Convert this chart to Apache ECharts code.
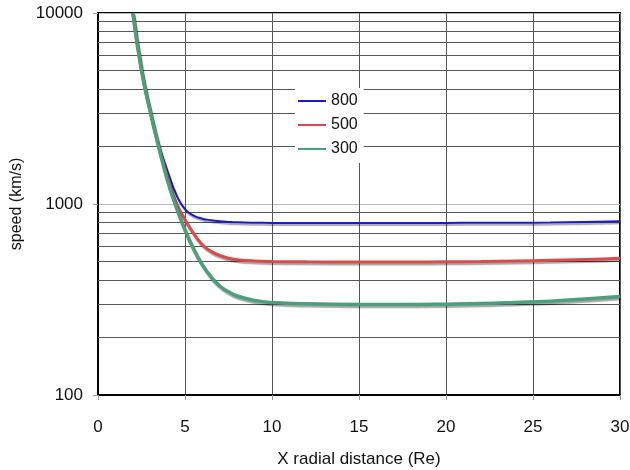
<!DOCTYPE html>
<html>
<head>
<meta charset="utf-8">
<script src="https://cdn.jsdelivr.net/npm/echarts@6/dist/echarts.min.js"></script>
<style>html,body{margin:0;padding:0;background:#fff}#c{width:630px;height:470px}</style>
</head>
<body>
<div id="c"></div>
<script>
const xValues = [2, 2.5, 3, 3.5, 4, 4.5, 5, 5.5, 6, 6.5, 7, 7.5, 8, 9, 10, 12, 15, 18, 20, 22, 24, 26, 28, 30];
const speed800 = [10000, 5000, 3050, 2030, 1480, 1120, 940, 870, 838, 822, 812, 806, 802, 798, 796, 795, 795, 795, 796, 797, 798, 800, 805, 812];
const speed500 = [10000, 5000, 3050, 1980, 1380, 1010, 830, 700, 612, 565, 538, 520, 511, 503, 500, 498, 497, 497, 498, 500, 503, 507, 512, 520];
const speed300 = [10000, 5000, 3050, 1970, 1320, 960, 730, 580, 480, 415, 372, 347, 330, 313, 305, 300, 298, 298, 299, 301, 305, 310, 318, 328];
const seriesNames = ['800', '500', '300'];
const xTicks = [0, 5, 10, 15, 20, 25, 30];
const yTicks = [100, 1000, 10000];
const minorGridValues = [200, 300, 400, 500, 600, 700, 800, 900, 2000, 3000, 4000, 5000, 6000, 7000, 8000, 9000];

const pair = (ys) => xValues.map((x, i) => [x, ys[i]]);
const FONT = '"Liberation Sans", Arial, Helvetica, sans-serif';
const shadow = {shadowColor: 'rgba(0,0,0,0.35)', shadowBlur: 1, shadowOffsetX: 1, shadowOffsetY: 2};

const chart = echarts.init(document.getElementById('c'));
chart.setOption({
  animation: false,
  backgroundColor: '#fff',
  textStyle: {fontFamily: FONT},
  grid: {left: 98, right: 10, top: 13, bottom: 75, containLabel: false, outerBoundsMode: 'none',
         show: true, borderColor: '#000', borderWidth: 2, backgroundColor: 'transparent'},
  legend: {
    data: seriesNames,
    orient: 'vertical',
    left: 295, top: 88,
    padding: [5, 6, 6, 3],
    backgroundColor: '#fff',
    icon: 'rect',
    itemWidth: 28, itemHeight: 2,
    itemGap: 8,
    textStyle: {fontFamily: FONT, fontSize: 16, color: '#111', lineHeight: 16}
  },
  xAxis: {
    type: 'value', min: xTicks[0], max: xTicks[xTicks.length - 1], interval: 5,
    name: 'X radial distance (Re)', nameLocation: 'middle', nameGap: 56,
    nameTextStyle: {fontFamily: FONT, fontSize: 17, color: '#111'},
    axisLine: {show: true, onZero: false, lineStyle: {color: '#000', width: 2}},
    axisTick: {show: true, inside: false, length: 5, lineStyle: {color: '#999'}},
    axisLabel: {fontFamily: FONT, fontSize: 17, color: '#111', margin: 24},
    splitLine: {show: true, lineStyle: {color: '#555', width: 1}}
  },
  yAxis: {
    type: 'log', logBase: 10, min: yTicks[0], max: yTicks[yTicks.length - 1],
    name: 'speed (km/s)', nameLocation: 'middle', nameGap: 72, nameRotate: 90,
    nameTextStyle: {fontFamily: FONT, fontSize: 16, color: '#111'},
    axisLine: {show: true, lineStyle: {color: '#000', width: 2}},
    axisTick: {show: true, inside: false, length: 5, lineStyle: {color: '#999'}},
    axisLabel: {fontFamily: FONT, fontSize: 17, color: '#111', margin: 15, formatter: (v) => String(Math.round(v))},
    splitLine: {show: true, lineStyle: {color: '#bbb', width: 1}},
    minorTick: {show: false}, minorSplitLine: {show: false}
  },
  series: [
    {
      name: 'grid', type: 'line', data: [[0, 100]], showSymbol: false, z: 1,
      lineStyle: {width: 0}, silent: true, legendHoverLink: false,
      markLine: {
        z: 1,
        silent: true, symbol: ['none', 'none'], label: {show: false},
        lineStyle: {color: '#555', width: 1, type: 'solid'},
        emphasis: {disabled: true},
        data: minorGridValues.map(v => ({yAxis: v}))
      }
    },
    {name: seriesNames[0], type: 'line', data: pair(speed800), showSymbol: false, smooth: 0.5, z: 3,
     color: '#1a1ac8', lineStyle: Object.assign({color: '#1a1ac8', width: 2}, shadow)},
    {name: seriesNames[1], type: 'line', data: pair(speed500), showSymbol: false, smooth: 0.5, z: 4,
     color: '#dc4a4a', lineStyle: Object.assign({color: '#dc4a4a', width: 3}, shadow)},
    {name: seriesNames[2], type: 'line', data: pair(speed300), showSymbol: false, smooth: 0.5, z: 5,
     color: '#4c9f7b', lineStyle: Object.assign({color: '#4c9f7b', width: 3.5}, shadow)}
  ]
});
</script>
</body>
</html>
